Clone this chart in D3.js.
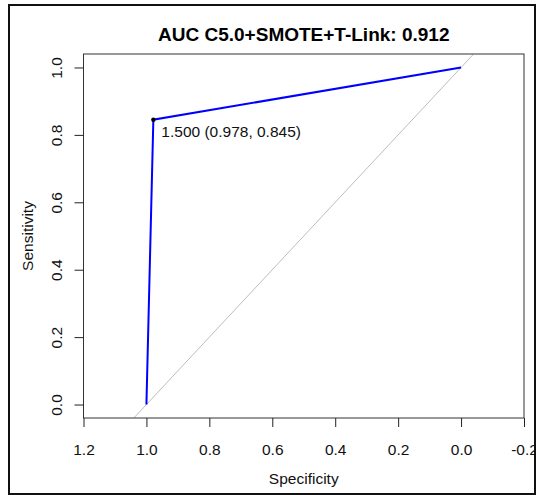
<!DOCTYPE html>
<html>
<head>
<meta charset="utf-8">
<script src="https://cdn.jsdelivr.net/npm/d3@7"></script>
<style>
  body { margin: 0; background: #fff; }
  text { font-family: "Liberation Sans", Arial, sans-serif; }
</style>
</head>
<body>
<div id="chart"></div>
<script>
// ROC curve values
const specificity = [1, 0.978, 0];
const sensitivity = [0, 0.845, 1];
const bestThreshold = [1.5];
const bestSpec = [0.978];
const bestSens = [0.845];
const xTicks = [1.2, 1.0, 0.8, 0.6, 0.4, 0.2, 0.0, -0.2];
const yTicks = [0.0, 0.2, 0.4, 0.6, 0.8, 1.0];
const title = "AUC C5.0+SMOTE+T-Link: 0.912";

const width = 536;
const height = 495;
const fs = "15.5px";

const svg = d3.select("#chart")
    .append("svg")
    .attr("width", width)
    .attr("height", height);

// outer frame
svg.append("rect")
    .attr("x", 9).attr("y", 5)
    .attr("width", 526).attr("height", 489)
    .attr("fill", "none")
    .attr("stroke", "#111")
    .attr("stroke-width", 2);

const x = d3.scaleLinear().domain([1.2, -0.2]).range([83.5, 524]);
const y = d3.scaleLinear().domain([-0.04, 1.04]).range([418, 54]);

svg.append("clipPath").attr("id", "clip")
    .append("rect")
    .attr("x", x(1.2)).attr("y", y(1.04))
    .attr("width", x(-0.2) - x(1.2))
    .attr("height", y(-0.04) - y(1.04));

// chance line
svg.append("line")
    .attr("clip-path", "url(#clip)")
    .attr("x1", x(1.1)).attr("y1", y(-0.1))
    .attr("x2", x(-0.1)).attr("y2", y(1.1))
    .attr("stroke", "#bdbdbd")
    .attr("stroke-width", 1);

// roc curve
const line = d3.line()
    .x((d, i) => x(specificity[i]))
    .y((d, i) => y(sensitivity[i]));

svg.append("path")
    .datum(specificity)
    .attr("d", line)
    .attr("fill", "none")
    .attr("stroke", "#0000ff")
    .attr("stroke-width", 2);

svg.append("circle")
    .attr("cx", x(bestSpec[0]))
    .attr("cy", y(bestSens[0]))
    .attr("r", 2.2)
    .attr("fill", "#000");

svg.append("text")
    .attr("x", x(bestSpec[0]) + 8)
    .attr("y", y(bestSens[0]) + 17)
    .style("font-size", fs)
    .attr("fill", "#111")
    .text(`${bestThreshold[0].toFixed(3)} (${bestSpec[0].toFixed(3)}, ${bestSens[0].toFixed(3)})`);

// plot box
svg.append("rect")
    .attr("x", x(1.2)).attr("y", y(1.04))
    .attr("width", x(-0.2) - x(1.2))
    .attr("height", y(-0.04) - y(1.04))
    .attr("fill", "none")
    .attr("stroke", "#333")
    .attr("stroke-width", 1);

// axes
const xAxis = svg.append("g")
    .attr("transform", `translate(0,${y(-0.04)})`)
    .call(d3.axisBottom(x)
        .tickValues(xTicks)
        .tickSize(9)
        .tickFormat(d => d.toFixed(1)));
xAxis.select(".domain").remove();
xAxis.selectAll("line").attr("stroke", "#222");
xAxis.selectAll("text")
    .attr("dy", null)
    .attr("y", 37)
    .attr("fill", "#111")
    .style("font-size", fs)
    .style("font-family", "Liberation Sans, Arial, sans-serif");

const yAxis = svg.append("g")
    .attr("transform", `translate(${x(1.2)},0)`)
    .call(d3.axisLeft(y)
        .tickValues(yTicks)
        .tickSize(9)
        .tickFormat(d => d.toFixed(1)));
yAxis.select(".domain").remove();
yAxis.selectAll("line").attr("stroke", "#222");
yAxis.selectAll("text")
    .attr("dy", null)
    .attr("x", null)
    .attr("text-anchor", "middle")
    .attr("transform", "translate(-22,0) rotate(-90)")
    .attr("fill", "#111")
    .style("font-size", fs)
    .style("font-family", "Liberation Sans, Arial, sans-serif");

// titles
svg.append("text")
    .attr("x", (x(1.2) + x(-0.2)) / 2)
    .attr("y", 41)
    .attr("text-anchor", "middle")
    .style("font-size", "19px")
    .style("font-weight", "bold")
    .attr("fill", "#000")
    .text(title);

svg.append("text")
    .attr("x", (x(1.2) + x(-0.2)) / 2)
    .attr("y", 483.5)
    .attr("text-anchor", "middle")
    .style("font-size", fs)
    .attr("fill", "#111")
    .text("Specificity");

svg.append("text")
    .attr("transform", `translate(32.5,${(y(1.04) + y(-0.04)) / 2}) rotate(-90)`)
    .attr("text-anchor", "middle")
    .style("font-size", fs)
    .attr("fill", "#111")
    .text("Sensitivity");
</script>
</body>
</html>
